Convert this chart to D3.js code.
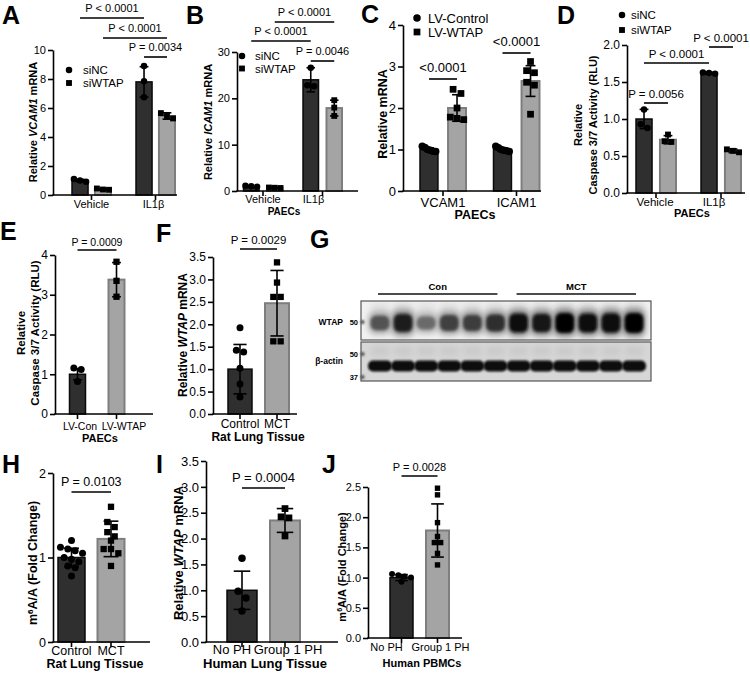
<!DOCTYPE html>
<html><head><meta charset="utf-8">
<script src="https://cdn.jsdelivr.net/npm/d3@7"></script>
<style>
body{margin:0;background:#fff;}
svg{display:block;font-family:"Liberation Sans",Arial,Helvetica,sans-serif;}
</style></head><body>
<svg id="fig" width="750" height="677"></svg>
<script>
// ======================= DATA =======================
// Panel A
const aGroups = ["Vehicle", "IL1β"];
const aSeries = ["siNC", "siWTAP"];
const aMeans = [[1.0, 0.40], [7.80, 5.45]];
const aSD = [[0.08, 0.06], [1.05, 0.22]];
const aPoints = [[[1.10, 1.00, 0.92], [0.45, 0.38, 0.36]], [[8.90, 7.85, 6.75], [5.65, 5.45, 5.28]]];
const aTicks = [0, 2, 4, 6, 8, 10];
const aPairs = [[[0, 0], [1, 0]], [[0, 1], [1, 1]], [[1, 0], [1, 1]]];
const aPText = ["P < 0.0001", "P < 0.0001", "P = 0.0034"];
const aYLabel = [[["Relative ", ""], ["VCAM1", "i"], [" mRNA", ""]]];

// Panel B
const bGroups = ["Vehicle", "IL1β"];
const bSeries = ["siNC", "siWTAP"];
const bMeans = [[1.0, 0.70], [24.0, 17.9]];
const bSD = [[0.15, 0.10], [2.6, 1.7]];
const bPoints = [[[1.15, 1.0, 0.9], [0.75, 0.70, 0.65]], [[26.6, 22.8, 22.6], [19.6, 18.0, 16.2]]];
const bTicks = [0, 10, 20, 30];
const bPairs = [[[0, 1], [1, 1]], [[0, 0], [1, 0]], [[1, 0], [1, 1]]];
const bPText = ["P < 0.0001", "P < 0.0001", "P = 0.0046"];
const bYLabel = [[["Relative ", ""], ["ICAM1", "i"], [" mRNA", ""]]];
const bSub = "PAECs";

// Panel C
const cGroups = ["VCAM1", "ICAM1"];
const cSeries = ["LV-Control", "LV-WTAP"];
const cMeans = [[1.0, 2.0], [1.0, 2.65]];
const cSD = [[0.04, 0.32], [0.04, 0.37]];
const cPoints = [[[1.08, 1.05, 1.0, 0.98, 0.96, 0.95], [2.45, 2.35, 2.0, 1.78, 1.75, 1.72]],
                 [[1.08, 1.04, 1.0, 0.98, 0.97, 0.95], [3.12, 2.9, 2.85, 2.62, 2.55, 1.85]]];
const cTicks = [0, 1, 2, 3, 4];
const cPairs = [[[0, 0], [0, 1]], [[1, 0], [1, 1]]];
const cPText = ["<0.0001", "<0.0001"];
const cYLabel = [[["Relative mRNA", ""]]];
const cSub = "PAECs";

// Panel D
const dGroups = ["Vehicle", "IL1β"];
const dSeries = ["siNC", "siWTAP"];
const dMeans = [[1.0, 0.72], [1.62, 0.57]];
const dSD = [[0.13, 0.055], [0.012, 0.025]];
const dPoints = [[[1.13, 0.93, 0.88], [0.79, 0.70, 0.69]], [[1.63, 1.62, 1.61], [0.59, 0.57, 0.55]]];
const dTicks = [0, 0.5, 1.0, 1.5, 2.0];
const dPairs = [[[0, 0], [0, 1]], [[0, 0], [1, 0]], [[1, 0], [1, 1]]];
const dPText = ["P = 0.0056", "P < 0.0001", "P < 0.0001"];
const dYLabel = [[["Relative", ""]], [["Caspase 3/7 Activity (RLU)", ""]]];
const dSub = "PAECs";

// Panel E
const eGroups = ["LV-Con", "LV-WTAP"];
const eMeans = [1.0, 3.38];
const eSD = [0.14, 0.43];
const ePoints = [[1.16, 1.12, 0.82], [3.83, 3.35, 2.95]];
const eTicks = [0, 1, 2, 3, 4];
const ePairs = [[[0], [1]]];
const ePText = ["P = 0.0009"];
const eYLabel = [[["Relative", ""]], [["Caspase 3/7 Activity (RLU)", ""]]];
const eSub = "PAECs";

// Panel F
const fGroups = ["Control", "MCT"];
const fMeans = [1.0, 2.47];
const fSD = [0.55, 0.73];
const fPoints = [[1.92, 1.42, 1.38, 1.02, 0.67, 0.38], [3.38, 2.93, 2.61, 2.61, 1.62, 1.62]];
const fTicks = [0, 0.5, 1.0, 1.5, 2.0, 2.5, 3.0, 3.5];
const fPairs = [[[0], [1]]];
const fPText = ["P = 0.0029"];
const fYLabel = [[["Relative ", ""], ["WTAP", "i"], [" mRNA", ""]]];
const fSub = "Rat Lung Tissue";

// Panel G (western blot)
const gLaneGroup = ["Con", "Con", "Con", "Con", "Con", "Con", "MCT", "MCT", "MCT", "MCT", "MCT", "MCT"];
const gWtapBand = [0.55, 0.85, 0.42, 0.65, 0.68, 0.75, 0.93, 0.88, 1.0, 0.92, 0.96, 1.0];
const gActinBand = [0.95, 0.93, 0.96, 0.95, 0.95, 0.95, 0.95, 0.95, 0.97, 0.95, 0.95, 0.95];
const gGroups = ["Con", "MCT"];
const gRows = ["WTAP", "β-actin"];
const gKDa = ["50", "50", "37"];

// Panel H
const hGroups = ["Control", "MCT"];
const hMeans = [1.0, 1.22];
const hSD = [0.11, 0.21];
const hPoints = [[1.2, 1.12, 1.1, 1.08, 1.05, 1.0, 0.98, 0.95, 0.9, 0.88, 0.78],
                 [1.6, 1.42, 1.36, 1.3, 1.25, 1.2, 1.1, 1.1, 1.05, 0.9]];
const hTicks = [0, 1, 2];
const hPairs = [[[0], [1]]];
const hPText = ["P = 0.0103"];
const hYLabel = [[["m", ""], ["6", "sup"], ["A/A (Fold Change)", ""]]];
const hSub = "Rat Lung Tissue";

// Panel I
const iGroups = ["No PH", "Group 1 PH"];
const iMeans = [1.0, 2.35];
const iSD = [0.37, 0.23];
const iPoints = [[1.62, 0.98, 0.85, 0.6], [2.58, 2.42, 2.4, 2.05]];
const iTicks = [0, 0.5, 1.0, 1.5, 2.0, 2.5, 3.0, 3.5];
const iPairs = [[[0], [1]]];
const iPText = ["P = 0.0004"];
const iYLabel = [[["Relative ", ""], ["WTAP", "i"], [" mRNA", ""]]];
const iSub = "Human Lung Tissue";

// Panel J
const jGroups = ["No PH", "Group 1 PH"];
const jMeans = [1.0, 1.78];
const jSD = [0.05, 0.44];
const jPoints = [[1.06, 1.04, 1.02, 1.0, 0.93], [2.48, 2.37, 1.91, 1.68, 1.58, 1.58, 1.40, 1.21]];
const jTicks = [0, 0.5, 1.0, 1.5, 2.0, 2.5];
const jPairs = [[[0], [1]]];
const jPText = ["P = 0.0028"];
const jYLabel = [[["m", ""], ["6", "sup"], ["A/A (Fold Change)", ""]]];
const jSub = "Human PBMCs";

// ======================= DRAWING =======================
const FONT = '"Liberation Sans", Arial, Helvetica, sans-serif';
const svg = d3.select("#fig");
const defs = svg.append("defs");
[[0.8, "b08"], [1.3, "b13"], [1.8, "b18"], [3, "b30"]].forEach(([s, id]) => {
  defs.append("filter").attr("id", id).attr("x", "-50%").attr("y", "-50%").attr("width", "200%").attr("height", "200%")
    .append("feGaussianBlur").attr("stdDeviation", s);
});
const STY = [
  {fill: "#2f2f2f", stroke: "#0a0a0a", sw: 1.5},
  {fill: "#a4a4a4", stroke: "#7e7e7e", sw: 2}
];

function addRich(sel, segs) {
  segs.forEach(([t, s]) => {
    const ts = sel.append("tspan").text(t);
    if (s === "i") ts.attr("font-style", "italic");
    if (s === "sup") ts.attr("baseline-shift", "super").attr("font-size", "65%");
  });
}

function letter(t, x, y) {
  svg.append("text").attr("x", x).attr("y", y).attr("font-size", 25).attr("font-weight", "bold")
    .attr("font-family", FONT).text(t);
}

function dodge(vals, y, ms, maxSpread) {
  const sorted = vals.map(v => ({v, py: y(v)})).sort((a, b) => a.py - b.py);
  const rows = [];
  sorted.forEach(p => {
    const last = rows[rows.length - 1];
    if (last && p.py - last[0].py < ms * 0.9) last.push(p); else rows.push([p]);
  });
  const out = [];
  rows.forEach(r => {
    const k = r.length;
    let step = ms * 1.05;
    if (k > 1 && step * (k - 1) > maxSpread) step = maxSpread / (k - 1);
    r.forEach((p, i) => out.push({v: p.v, py: p.py, dx: (i - (k - 1) / 2) * step}));
  });
  return out;
}

function panel(d, L) {
  const g = svg.append("g");
  const top = d.ticks[d.ticks.length - 1];
  const y = d3.scaleLinear().domain([0, top]).range([L.yBot, L.yTop]);
  const multi = Array.isArray(d.series);
  const ser = multi ? d.series : ["all"];
  const xg = d3.scalePoint().domain(d.groups).range(L.centers);
  const xs = d3.scaleBand().domain(ser).range([-L.groupW / 2, L.groupW / 2]).paddingInner(multi ? L.pad : 0);
  const bw = xs.bandwidth();
  const rows = [];
  d.groups.forEach((gname, gi) => ser.forEach((sname, si) => {
    rows.push({gi, si, k: multi ? si : gi,
      mean: multi ? d.means[gi][si] : d.means[gi],
      sd: multi ? d.sd[gi][si] : d.sd[gi],
      pts: multi ? d.points[gi][si] : d.points[gi],
      cx: xg(gname) + xs(sname) + bw / 2});
  }));
  const cxOf = p => rows.find(r => r.gi === p[0] && r.si === (p[1] || 0)).cx;

  // bars
  g.selectAll("rect.bar").data(rows).join("rect").attr("class", "bar")
    .attr("x", r => r.cx - bw / 2).attr("width", bw)
    .attr("y", r => y(r.mean)).attr("height", r => y(0) - y(r.mean))
    .attr("fill", r => STY[r.k].fill).attr("stroke", r => STY[r.k].stroke)
    .attr("stroke-width", r => STY[r.k].sw);

  // error bars
  const cap = bw * (L.cap || 0.55);
  const eb = g.selectAll("g.eb").data(rows).join("g").attr("class", "eb")
    .attr("stroke", "#000").attr("stroke-width", 1.6);
  eb.append("line").attr("x1", r => r.cx).attr("x2", r => r.cx)
    .attr("y1", r => y(r.mean - r.sd)).attr("y2", r => y(r.mean + r.sd));
  eb.append("line").attr("x1", r => r.cx - cap / 2).attr("x2", r => r.cx + cap / 2)
    .attr("y1", r => y(r.mean + r.sd)).attr("y2", r => y(r.mean + r.sd));
  eb.append("line").attr("x1", r => r.cx - cap / 2).attr("x2", r => r.cx + cap / 2)
    .attr("y1", r => y(r.mean - r.sd)).attr("y2", r => y(r.mean - r.sd));

  // points
  const ms = L.ms || 6.5;
  const pts = [];
  rows.forEach(r => dodge(r.pts, y, ms, bw - ms * 0.6).forEach(p => pts.push({k: r.k, x: r.cx + p.dx, y: p.py})));
  g.selectAll("circle.pt").data(pts.filter(p => p.k === 0)).join("circle").attr("class", "pt")
    .attr("cx", p => p.x).attr("cy", p => p.y).attr("r", ms / 2).attr("fill", "#000");
  g.selectAll("rect.pt").data(pts.filter(p => p.k === 1)).join("rect").attr("class", "pt")
    .attr("x", p => p.x - ms * 0.45).attr("y", p => p.y - ms * 0.45)
    .attr("width", ms * 0.9).attr("height", ms * 0.9).attr("fill", "#000");

  // y axis
  const ya = d3.axisLeft(y).tickValues(d.ticks).tickFormat(d3.format(L.fmt || "d"))
    .tickSize(5).tickSizeOuter(0).tickPadding(2);
  const yg = g.append("g").attr("transform", `translate(${L.x0},0)`).call(ya);
  yg.attr("font-family", null).attr("font-size", null);
  yg.selectAll("text").attr("font-size", L.tf).attr("font-family", FONT).attr("fill", "#000");
  yg.selectAll("line,path").attr("stroke", "#000").attr("stroke-width", 1.6);

  // x axis
  g.append("line").attr("x1", L.x0 - 0.8).attr("x2", L.x1).attr("y1", y(0)).attr("y2", y(0))
    .attr("stroke", "#000").attr("stroke-width", 1.6);
  g.selectAll("line.xt").data(d.groups).join("line").attr("class", "xt")
    .attr("x1", gname => xg(gname)).attr("x2", gname => xg(gname)).attr("y1", y(0)).attr("y2", y(0) + 5)
    .attr("stroke", "#000").attr("stroke-width", 1.6);
  g.selectAll("text.xl").data(d.groups).join("text").attr("class", "xl")
    .attr("x", (gname, i) => xg(gname) + (L.xdx ? L.xdx[i] : 0)).attr("y", L.xly)
    .attr("text-anchor", "middle").attr("font-size", L.xf).text(gname => gname);
  if (d.sub) {
    g.append("text").attr("x", L.sub[0]).attr("y", L.sub[1]).attr("text-anchor", "middle")
      .attr("font-size", L.sub[2]).attr("font-weight", "bold").text(d.sub);
  }

  // y label
  d.ylabel.forEach((line, i) => {
    const t = g.append("text").attr("transform", `translate(${L.ylx[i]},${L.yly}) rotate(-90)`)
      .attr("dy", "0.35em").attr("text-anchor", "middle").attr("font-size", L.yf).attr("font-weight", "bold");
    addRich(t, line);
  });

  // legend
  if (multi && L.leg) {
    const lg = g.selectAll("g.lg").data(ser).join("g").attr("class", "lg")
      .attr("transform", (s, i) => `translate(${L.leg[0]},${L.leg[1] + i * L.leg[2]})`);
    lg.filter((s, i) => i === 0).append("circle").attr("r", ms / 2).attr("fill", "#000");
    lg.filter((s, i) => i === 1).append("rect").attr("x", -ms * 0.45).attr("y", -ms * 0.45)
      .attr("width", ms * 0.9).attr("height", ms * 0.9).attr("fill", "#000");
    lg.append("text").attr("x", L.leg[3]).attr("dy", "0.36em").attr("font-size", L.leg[4]).text(s => s);
  }

  // significance brackets
  const br = g.selectAll("g.br").data(d.pairs).join("g").attr("class", "br");
  br.append("line").attr("x1", p => cxOf(p[0])).attr("x2", p => cxOf(p[1]))
    .attr("y1", (p, i) => L.br[i]).attr("y2", (p, i) => L.br[i])
    .attr("stroke", "#000").attr("stroke-width", 1.6);
  br.append("text").attr("x", p => (cxOf(p[0]) + cxOf(p[1])) / 2).attr("y", (p, i) => L.br[i] - (L.brGap || 6))
    .attr("text-anchor", "middle").attr("font-size", L.pf).text((p, i) => d.ptext[i]);

  letter(L.letter[0], L.letter[1], L.letter[2]);
}

svg.attr("font-family", FONT);

panel({groups: aGroups, series: aSeries, means: aMeans, sd: aSD, points: aPoints, ticks: aTicks,
  pairs: aPairs, ptext: aPText, ylabel: aYLabel},
  {x0: 53, x1: 177, yTop: 50, yBot: 195, centers: [91.5, 155.5], groupW: 39, pad: 0.3, tf: 11, fmt: "d",
   ms: 6.5, ylx: [33], yly: 122, yf: 11, xly: 208, xf: 11, xdx: [0, -2], leg: [69, 70, 13, 14, 11.5],
   br: [18, 38, 57], brGap: 6, pf: 11, letter: ["A", 2, 23.5]});

panel({groups: bGroups, series: bSeries, means: bMeans, sd: bSD, points: bPoints, ticks: bTicks,
  pairs: bPairs, ptext: bPText, ylabel: bYLabel, sub: bSub},
  {x0: 237, x1: 358, yTop: 52, yBot: 191, centers: [263, 322.5], groupW: 39, pad: 0.34, tf: 11, fmt: "d",
   ms: 6.5, ylx: [208], yly: 122, yf: 11, xly: 203, xf: 11, xdx: [0, -9], sub: [284, 215, 10],
   leg: [242, 56, 12.5, 13, 11.5], br: [22, 41, 61], brGap: 6, pf: 11, letter: ["B", 186, 23.5]});

panel({groups: cGroups, series: cSeries, means: cMeans, sd: cSD, points: cPoints, ticks: cTicks,
  pairs: cPairs, ptext: cPText, ylabel: cYLabel, sub: cSub},
  {x0: 403, x1: 541, yTop: 25, yBot: 191, centers: [443, 516.5], groupW: 46, pad: 0.36, tf: 13, fmt: "d",
   ms: 7.5, ylx: [383], yly: 114, yf: 12.5, xly: 207, xf: 13, xdx: [0, 0], sub: [475, 219, 12.5],
   leg: [417, 18, 14, 11, 13], br: [79, 53], brGap: 7, pf: 13, letter: ["C", 361, 23]});

panel({groups: dGroups, series: dSeries, means: dMeans, sd: dSD, points: dPoints, ticks: dTicks,
  pairs: dPairs, ptext: dPText, ylabel: dYLabel, sub: dSub},
  {x0: 627, x1: 745, yTop: 45, yBot: 193, centers: [656, 721], groupW: 40, pad: 0.33, tf: 12, fmt: ".1f",
   ms: 6.5, ylx: [578, 593], yly: 125, yf: 11, xly: 206, xf: 11.5, xdx: [-1, -7], sub: [692, 217, 11],
   leg: [622, 15, 15, 9, 11.5], br: [103, 63, 47], brGap: 5, pf: 11.5, letter: ["D", 557, 23.5]});

panel({groups: eGroups, means: eMeans, sd: eSD, points: ePoints, ticks: eTicks,
  pairs: ePairs, ptext: ePText, ylabel: eYLabel, sub: eSub},
  {x0: 55, x1: 153, yTop: 255, yBot: 414, centers: [77.5, 116.5], groupW: 16, tf: 12, fmt: "d",
   ms: 7, ylx: [21, 35], yly: 333, yf: 11.5, xly: 430, xf: 10.5, xdx: [2.5, 7.5], sub: [100, 442, 11],
   br: [250], brGap: 4, pf: 10.5, letter: ["E", 0, 240]});

panel({groups: fGroups, means: fMeans, sd: fSD, points: fPoints, ticks: fTicks,
  pairs: fPairs, ptext: fPText, ylabel: fYLabel, sub: fSub},
  {x0: 213, x1: 297, yTop: 257, yBot: 414, centers: [240, 277], groupW: 24, tf: 12, fmt: ".1f",
   ms: 7, ylx: [183], yly: 335, yf: 12, xly: 428, xf: 12, xdx: [0, 0], sub: [258, 441, 12],
   br: [249], brGap: 5, pf: 11.5, letter: ["F", 156, 242]});

panel({groups: hGroups, means: hMeans, sd: hSD, points: hPoints, ticks: hTicks,
  pairs: hPairs, ptext: hPText, ylabel: hYLabel, sub: hSub},
  {x0: 53, x1: 150, yTop: 473, yBot: 642, centers: [71.5, 111], groupW: 27, tf: 12.5, fmt: "d",
   ms: 7, ylx: [33], yly: 563, yf: 12.5, xly: 655, xf: 12.5, xdx: [0, 0], sub: [95, 668, 12.5],
   br: [492], brGap: 6, pf: 12.5, letter: ["H", 2, 473]});

panel({groups: iGroups, means: iMeans, sd: iSD, points: iPoints, ticks: iTicks,
  pairs: iPairs, ptext: iPText, ylabel: iYLabel, sub: iSub},
  {x0: 206, x1: 338, yTop: 461, yBot: 642, centers: [242, 285], groupW: 30, tf: 13, fmt: ".1f",
   ms: 7.5, ylx: [178], yly: 553, yf: 13, xly: 654, xf: 13, xdx: [-10, 3], sub: [265, 668, 13],
   br: [488], brGap: 6, pf: 13, letter: ["I", 156, 473]});

panel({groups: jGroups, means: jMeans, sd: jSD, points: jPoints, ticks: jTicks,
  pairs: jPairs, ptext: jPText, ylabel: jYLabel, sub: jSub},
  {x0: 368, x1: 462, yTop: 487, yBot: 638, centers: [401.5, 437.5], groupW: 23, tf: 11, fmt: ".1f",
   ms: 6, ylx: [342], yly: 567, yf: 11, xly: 651, xf: 11, xdx: [-15, 3], sub: [422, 667, 11],
   br: [476], brGap: 5, pf: 11, letter: ["J", 322, 473]});

// ---------------- Panel G: western blot ----------------
(function blot() {
  const L = {box: [361, 651], up: [301, 340], low: [342, 381], lanes: [369, 645], wtapY: 323, actinY: 366,
    gLineY: 294, gTextY: 290, rowX: 343, rowY: [325, 364], kdaX: 358, kdaY: [325, 357, 380]};
  const g = svg.append("g");
  const lane = d3.scaleBand().domain(d3.range(gLaneGroup.length)).range(L.lanes).paddingInner(0.05);
  const bw = lane.bandwidth();
  const shade = d3.interpolateRgb("#b4b4b4", "#030303");

  gGroups.forEach(gr => {
    const idx = gLaneGroup.map((v, i) => v === gr ? i : -1).filter(i => i >= 0);
    const x1 = lane(idx[0]) + bw / 2 - 2, x2 = lane(idx[idx.length - 1]) + bw / 2 + 2;
    g.append("line").attr("x1", x1).attr("x2", x2).attr("y1", L.gLineY).attr("y2", L.gLineY)
      .attr("stroke", "#111").attr("stroke-width", 1.3);
    g.append("text").attr("x", (x1 + x2) / 2).attr("y", L.gTextY).attr("text-anchor", "middle")
      .attr("font-size", 9.5).attr("font-weight", "bold").text(gr);
  });

  [["cu", L.up, "#f1f1f1"], ["cl", L.low, "#d7d7d7"]].forEach(([id, yy, bg]) => {
    defs.append("clipPath").attr("id", id).append("rect").attr("x", L.box[0]).attr("y", yy[0])
      .attr("width", L.box[1] - L.box[0]).attr("height", yy[1] - yy[0]);
    g.append("rect").attr("x", L.box[0]).attr("y", yy[0]).attr("width", L.box[1] - L.box[0])
      .attr("height", yy[1] - yy[0]).attr("fill", bg);
  });

  const up = g.append("g").attr("clip-path", "url(#cu)");
  up.selectAll("rect.sm").data(gWtapBand).join("rect").attr("class", "sm")
    .attr("x", (v, i) => lane(i) + 2).attr("width", bw - 4)
    .attr("y", L.up[0] + 2).attr("height", L.wtapY - L.up[0] - 6)
    .attr("fill", "#c8c8c8").attr("opacity", v => 0.25 + 0.3 * v).attr("filter", "url(#b30)");
  up.selectAll("rect.halo").data(gWtapBand).join("rect").attr("class", "halo")
    .attr("x", (v, i) => lane(i)).attr("width", bw)
    .attr("y", v => L.wtapY - (7 + 7 * v)).attr("height", v => 14 + 14 * v).attr("rx", 6)
    .attr("fill", v => shade(v * 0.7)).attr("opacity", 0.6).attr("filter", "url(#b30)");
  up.selectAll("rect.band").data(gWtapBand).join("rect").attr("class", "band")
    .attr("x", (v, i) => lane(i) + 1.5).attr("width", bw - 3)
    .attr("y", v => L.wtapY - (4 + 6 * v)).attr("height", v => 8 + 12 * v).attr("rx", 6)
    .attr("fill", v => shade(v)).attr("filter", "url(#b18)");

  const lo = g.append("g").attr("clip-path", "url(#cl)");
  lo.selectAll("rect.sm").data(gActinBand).join("rect").attr("class", "sm")
    .attr("x", (v, i) => lane(i) + 2).attr("width", bw - 4)
    .attr("y", L.low[0] + 4).attr("height", 10).attr("fill", "#bdbdbd").attr("opacity", 0.5)
    .attr("filter", "url(#b30)");
  lo.selectAll("rect.band").data(gActinBand).join("rect").attr("class", "band")
    .attr("x", (v, i) => lane(i) - 1).attr("width", bw + 2)
    .attr("y", L.actinY - 5.5).attr("height", 11).attr("rx", 5)
    .attr("fill", v => shade(v)).attr("filter", "url(#b13)");

  g.selectAll("circle.lad").data(gKDa).join("circle").attr("class", "lad")
    .attr("cx", L.box[0] + 1.5).attr("cy", (k, i) => L.kdaY[i] - 3).attr("r", 2)
    .attr("fill", "#444").attr("filter", "url(#b08)");

  [L.up, L.low].forEach(yy => g.append("rect").attr("x", L.box[0]).attr("y", yy[0])
    .attr("width", L.box[1] - L.box[0]).attr("height", yy[1] - yy[0])
    .attr("fill", "none").attr("stroke", "#555").attr("stroke-width", 1.2));

  g.selectAll("text.row").data(gRows).join("text").attr("class", "row")
    .attr("x", L.rowX).attr("y", (r, i) => L.rowY[i]).attr("text-anchor", "end")
    .attr("font-size", 8.5).attr("font-weight", "bold").text(r => r);
  g.selectAll("text.kda").data(gKDa).join("text").attr("class", "kda")
    .attr("x", L.kdaX).attr("y", (k, i) => L.kdaY[i]).attr("text-anchor", "end")
    .attr("font-size", 7.5).attr("font-weight", "bold").text(k => k);

  letter("G", 310, 248);
})();
</script>
</body></html>
